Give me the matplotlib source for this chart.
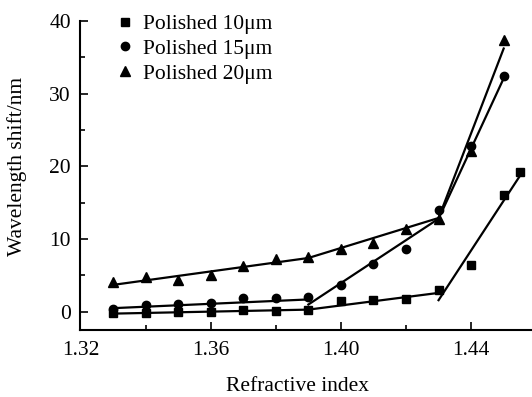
import matplotlib
matplotlib.use("Agg")
import matplotlib.pyplot as plt
from matplotlib.ticker import MultipleLocator, FixedLocator

plt.rcParams['font.family'] = ['Liberation Serif', 'DejaVu Serif']
plt.rcParams['mathtext.fontset'] = 'stix'

# --- data ---
ri = [1.33, 1.34, 1.35, 1.36, 1.37, 1.38, 1.39, 1.40, 1.41, 1.42, 1.43, 1.44, 1.45]
ri10 = ri + [1.455]
shift10 = [-0.1, -0.2, 0.0, 0.0, 0.2, 0.15, 0.3, 1.5, 1.6, 1.7, 3.0, 6.5, 16.0, 19.2]
shift15 = [0.45, 0.9, 1.05, 1.25, 1.85, 1.9, 2.05, 3.65, 6.6, 8.7, 14.0, 22.8, 32.4]
shift20 = [4.1, 4.8, 4.4, 5.0, 6.3, 7.3, 7.6, 8.6, 9.5, 11.35, 12.8, 22.1, 37.4]

# piecewise linear fit segments (endpoints)
fit10_seg = [([1.33, 1.39, 1.43], [-0.25, 0.3, 2.6]),
             ([1.43, 1.455], [1.6, 18.7])]
fit15_seg = [([1.33, 1.39], [0.5, 1.7]),
             ([1.39, 1.43, 1.45], [1.0, 12.8, 32.1])]
fit20_seg = [([1.33, 1.39, 1.43, 1.45], [3.7, 7.4, 12.9, 36.2])]

labels = ['Polished 10μm', 'Polished 15μm', 'Polished 20μm']
xticks_major = [1.32, 1.36, 1.40, 1.44]
xticks_minor = [1.34, 1.38, 1.42]

FS = 15.5

fig = plt.figure(figsize=(5.32, 3.97), dpi=100)
ax = fig.add_axes([0.1513, 0.1688, 0.8487, 0.7786])

for segs in (fit10_seg, fit15_seg, fit20_seg):
    for xs, ys in segs:
        ax.plot(xs, ys, color='black', lw=1.6, zorder=2)

ax.plot(ri10, shift10, ls='none', marker='s', ms=5.5, color='black', label=labels[0], zorder=3)
ax.plot(ri, shift15, ls='none', marker='o', ms=6, color='black', label=labels[1], zorder=3)
ax.plot(ri, shift20, ls='none', marker='^', ms=7, color='black', label=labels[2], zorder=3)

ax.set_xlim(1.32, 1.4587)
ax.set_ylim(-2.5, 40)
ax.spines['top'].set_visible(False)
ax.spines['right'].set_visible(False)
ax.spines['left'].set_linewidth(1.5)
ax.spines['bottom'].set_linewidth(1.5)

ax.xaxis.set_major_locator(FixedLocator(xticks_major))
ax.xaxis.set_minor_locator(FixedLocator(xticks_minor))
ax.set_xticklabels(['%.2f' % v for v in xticks_major])
ax.yaxis.set_major_locator(MultipleLocator(10))
ax.yaxis.set_minor_locator(MultipleLocator(5))

ax.tick_params(which='major', direction='in', length=6, width=1.2, labelsize=FS, pad=7)
ax.tick_params(which='minor', direction='in', length=3.5, width=1.2)
ax.tick_params(axis='x', which='major', pad=8)

ax.set_xlabel('Refractive index', fontsize=FS)
ax.xaxis.set_label_coords(0.4817, -0.152)
ax.set_ylabel('Wavelength shift/nm', fontsize=FS)
ax.yaxis.set_label_coords(-0.118, 0.529)

leg = ax.legend(loc='upper left', bbox_to_anchor=(0.065, 1.05), frameon=False,
                fontsize=FS, handlelength=0.6, handletextpad=0.55,
                labelspacing=0.22, borderaxespad=0, markerscale=1.0)

fig.savefig('out.png', dpi=100)
